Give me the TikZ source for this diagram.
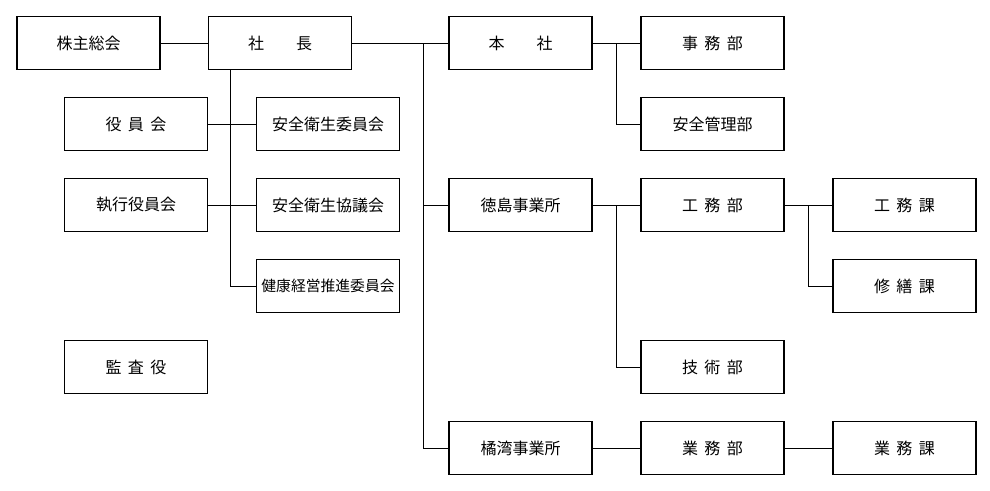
\documentclass[tikz,border=0pt]{standalone}
\usepackage{fontspec}
\newfontfamily\jp{Noto Sans CJK JP}
\newcommand{\jsp}{\hspace{0.4em}}
\newcommand{\jwsp}{\hspace{2em}}
\begin{document}
\begin{tikzpicture}[x=1pt,y=-1pt,
  box/.style={draw,line width=1.1pt,minimum width=143pt,minimum height=53pt,inner sep=0pt,
    font=\jp\fontsize{16}{18}\selectfont},
  small/.style={font=\jp\fontsize{14.8}{16}\selectfont},
  link/.style={line width=1pt}]
\useasboundingbox (0,0) rectangle (990,490);
% column 0 / 1
\node[box] (kabu) at (88.5,43) {株主総会};
\node[box] (shacho) at (280,43) {社\jwsp 長};
\node[box] (yakuin) at (136,124) {役\jsp 員\jsp 会};
\node[box] (anzeniin) at (328,124) {安全衛生委員会};
\node[box] (shikko) at (136,205) {執行役員会};
\node[box] (kyogi) at (328,205) {安全衛生協議会};
\node[box,small] (kenko) at (328,286) {健康経営推進委員会};
\node[box] (kansa) at (136,367) {監\jsp 査\jsp 役};
% column 2
\node[box] (honsha) at (520.5,43) {本\jwsp 社};
\node[box] (tokushima) at (520.5,205) {徳島事業所};
\node[box] (kitsu) at (520.5,448) {橘湾事業所};
% column 3
\node[box] (jimu) at (712.5,43) {事\jsp 務\jsp 部};
\node[box] (anzenkanri) at (712.5,124) {安全管理部};
\node[box] (koumubu) at (712.5,205) {工\jsp 務\jsp 部};
\node[box] (gijutsu) at (712.5,367) {技\jsp 術\jsp 部};
\node[box] (gyomubu) at (712.5,448) {業\jsp 務\jsp 部};
% column 4
\node[box] (koumuka) at (904.5,205) {工\jsp 務\jsp 課};
\node[box] (shuzen) at (904.5,286) {修\jsp 繕\jsp 課};
\node[box] (gyomuka) at (904.5,448) {業\jsp 務\jsp 課};
% junctions
\coordinate (s0) at (230,70);
\coordinate (t0) at (423,43);
\coordinate (h0) at (616,43);
\coordinate (k0) at (616,205);
\coordinate (k1) at (808,205);
% connectors
\draw[link] (kabu.east) -- (shacho.west);
\draw[link] (shacho.east) -- (honsha.west);
\draw[link] (s0) |- (kenko.west);
\draw[link] (yakuin.east) -- (anzeniin.west);
\draw[link] (shikko.east) -- (kyogi.west);
\draw[link] (t0) |- (kitsu.west);
\draw[link] (t0 |- tokushima.west) -- (tokushima.west);
\draw[link] (honsha.east) -- (jimu.west);
\draw[link] (h0) |- (anzenkanri.west);
\draw[link] (tokushima.east) -- (koumubu.west);
\draw[link] (k0) |- (gijutsu.west);
\draw[link] (koumubu.east) -- (koumuka.west);
\draw[link] (k1) |- (shuzen.west);
\draw[link] (kitsu.east) -- (gyomubu.west);
\draw[link] (gyomubu.east) -- (gyomuka.west);
\end{tikzpicture}
\end{document}
